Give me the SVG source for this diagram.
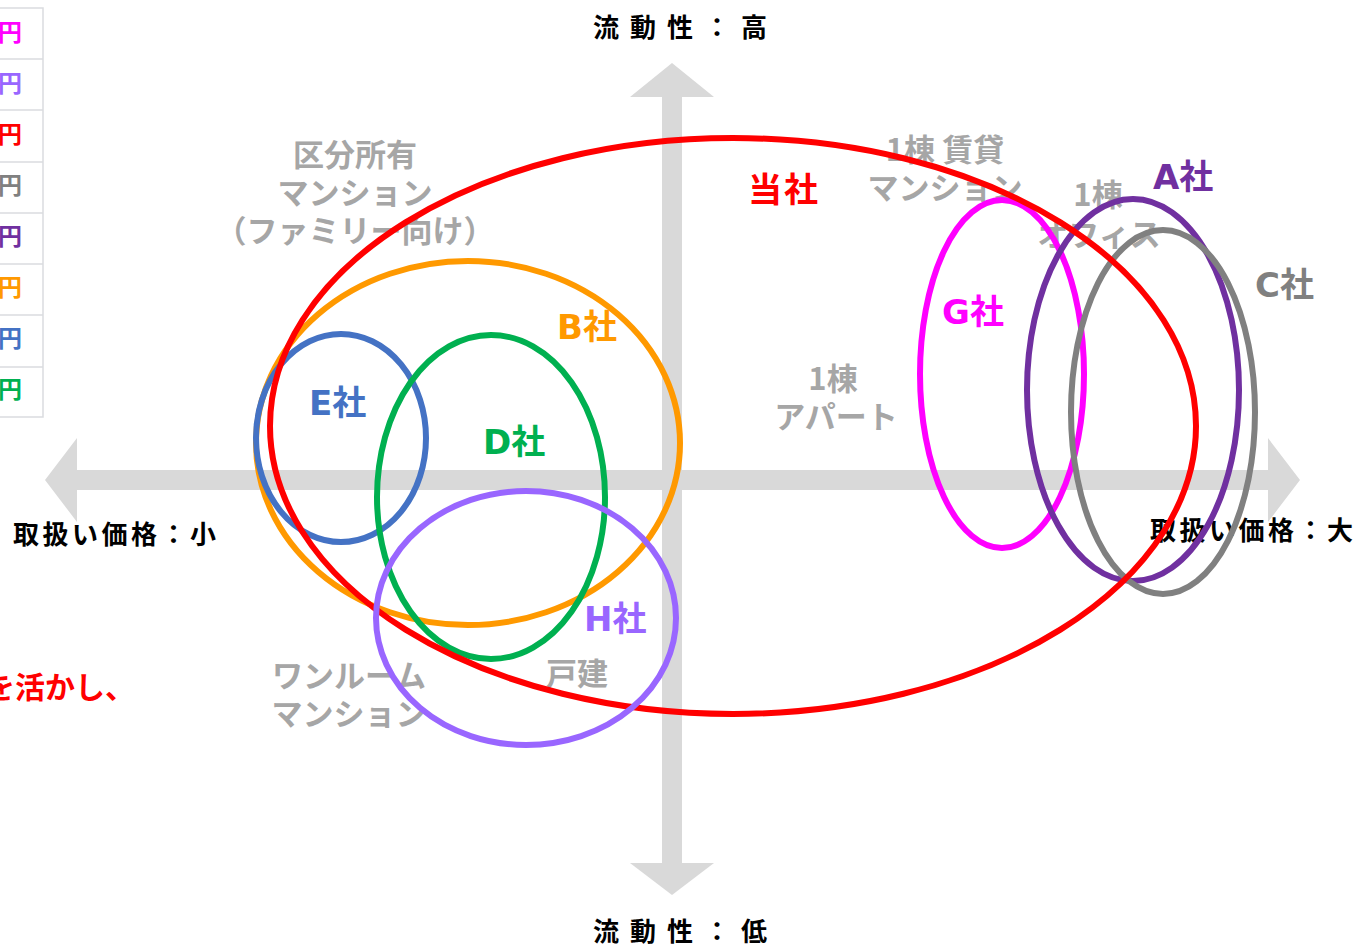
<svg xmlns="http://www.w3.org/2000/svg" width="1359" height="946" viewBox="0 0 1359 946">
<style>
text{font-family:"Noto Sans CJK JP","Noto Sans",sans-serif;font-weight:bold}
.ax{fill:#d9d9d9}
.axl{font-size:26px;fill:#000}
.cat{font-size:31px;fill:#a6a6a6;text-anchor:middle}
.co{font-size:34px;font-family:"DejaVu Sans","Noto Sans CJK JP",sans-serif}
.el{fill:none;stroke-width:6}
.tb{fill:none;stroke:#dadce0;stroke-width:1.5}
.yen{font-size:24px;text-anchor:end}
</style>
<rect width="1359" height="946" fill="#fff"/>
<g id="table">
<path class="tb" d="M0 8H43V417H0M0 59H43M0 110H43M0 162H43M0 213H43M0 264H43M0 315H43M0 367H43"/>
<text class="yen" x="22" y="41" fill="#ff00ff">円</text>
<text class="yen" x="22" y="92" fill="#9966ff">円</text>
<text class="yen" x="22" y="143" fill="#ff0000">円</text>
<text class="yen" x="22" y="194" fill="#808080">円</text>
<text class="yen" x="22" y="245" fill="#7030a0">円</text>
<text class="yen" x="22" y="296" fill="#ff9900">円</text>
<text class="yen" x="22" y="347" fill="#4472c4">円</text>
<text class="yen" x="22" y="398" fill="#00b050">円</text>
</g>
<text id="note" x="-15" y="698" font-size="30" fill="#ff0000">を活かし、</text>
<g id="axes">
<polygon class="ax" points="45,480 77,438 77,470 1268,470 1268,438 1300,480 1268,522 1268,490 77,490 77,522"/>
<polygon class="ax" points="672,63 714,97 682,97 682,863 714,863 672,895 630,863 662,863 662,97 630,97"/>
</g>
<g id="axis-labels">
<text class="axl" x="593" y="37" letter-spacing="11">流動性：高</text>
<text class="axl" x="593" y="941" letter-spacing="11">流動性：低</text>
<text class="axl" x="13" y="544" letter-spacing="3.5">取扱い価格：小</text>
<text class="axl" x="1150" y="540" letter-spacing="3.5">取扱い価格：大</text>
</g>
<g id="categories">
<text class="cat" x="355" y="166">区分所有</text>
<text class="cat" x="355" y="204">マンション</text>
<text class="cat" x="355" y="242">（ファミリー向け）</text>
<text class="cat" x="945" y="161">1棟 賃貸</text>
<text class="cat" x="945" y="199">マンション</text>
<text class="cat" x="1098" y="206">1棟</text>
<text class="cat" x="1099" y="246">オフィス</text>
<text class="cat" x="833" y="390">1棟</text>
<text class="cat" x="836" y="428">アパート</text>
<text class="cat" x="349" y="687">ワンルーム</text>
<text class="cat" x="349" y="725">マンション</text>
<text class="cat" x="577" y="685">戸建</text>
</g>
<g id="ellipses">
<ellipse id="B" class="el" cx="468" cy="443" rx="212" ry="182" stroke="#ff9900"/>
<ellipse id="E" class="el" cx="341" cy="438" rx="85" ry="104" stroke="#4472c4"/>
<ellipse id="D" class="el" cx="491" cy="497" rx="114" ry="162" stroke="#00b050"/>
<ellipse id="G" class="el" cx="1002" cy="374" rx="82" ry="174" stroke="#ff00ff"/>
<ellipse id="A" class="el" cx="1133" cy="390" rx="106" ry="191" stroke="#7030a0"/>
<ellipse id="C" class="el" cx="1163" cy="412" rx="92" ry="182" stroke="#808080"/>
<ellipse id="self" class="el" cx="733" cy="426" rx="463" ry="288" stroke="#ff0000"/>
<ellipse id="H" class="el" cx="526" cy="618" rx="150" ry="127" stroke="#9966ff"/>
</g>
<g id="companies">
<text class="co" x="748" y="202" fill="#ff0000" letter-spacing="2">当社</text>
<text class="co" x="1153" y="189" fill="#7030a0">A社</text>
<text class="co" x="1255" y="297" fill="#808080">C社</text>
<text class="co" x="942" y="324" fill="#ff00ff">G社</text>
<text class="co" x="557" y="339" fill="#ff9900">B社</text>
<text class="co" x="309" y="415" fill="#4472c4">E社</text>
<text class="co" x="483" y="454" fill="#00b050">D社</text>
<text class="co" x="584" y="631" fill="#9966ff">H社</text>
</g>
</svg>
